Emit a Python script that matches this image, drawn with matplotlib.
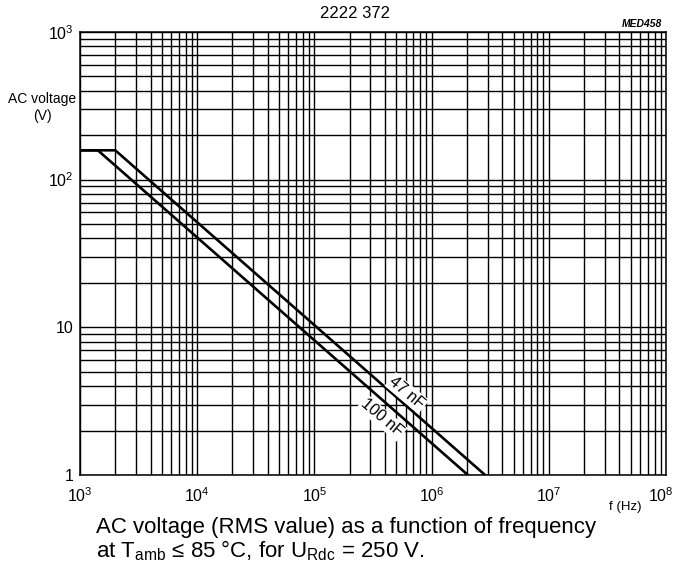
import numpy as np
import matplotlib
matplotlib.use("Agg")
import matplotlib.pyplot as plt
from matplotlib.ticker import FixedLocator, FixedFormatter, NullFormatter

plt.rcParams['font.family'] = ['Liberation Sans', 'DejaVu Sans']
plt.rcParams['mathtext.fontset'] = 'custom'
plt.rcParams['mathtext.rm'] = 'Liberation Sans'
plt.rcParams['mathtext.it'] = 'Liberation Sans'

# Data
freq_47nf = [1e3, 2.0e3, 2.86e6]
volt_47nf = [158, 158, 1]
freq_100nf = [1e3, 1.42e3, 2.04e6]
volt_100nf = [158, 158, 1]

x_ticks = [1e3, 1e4, 1e5, 1e6, 1e7, 1e8]
x_labels = ['$10^3$', '$10^4$', '$10^5$', '$10^6$', '$10^7$', '$10^8$']
y_ticks = [1, 10, 100, 1000]
y_labels = ['1', '10', '$10^2$', '$10^3$']

fig = plt.figure(figsize=(6.74, 5.72), dpi=100)
ax = fig.add_axes([0.1187, 0.1696, 0.8694, 0.7745])

ax.set_xscale('log')
ax.set_yscale('log')
ax.set_xlim(1e3, 1e8)
ax.set_ylim(1, 1e3)

# grid on every decade and sub-decade line
ax.xaxis.set_major_locator(FixedLocator(x_ticks))
ax.yaxis.set_major_locator(FixedLocator(y_ticks))
# last x label is drawn by hand, pulled in from the edge
ax.xaxis.set_major_formatter(FixedFormatter(x_labels[:-1] + ['']))
ax.yaxis.set_major_formatter(FixedFormatter(y_labels))
ax.xaxis.set_minor_formatter(NullFormatter())
ax.yaxis.set_minor_formatter(NullFormatter())
ax.grid(True, which='both', color='black', linewidth=1.0)
ax.tick_params(which='both', length=0, labelsize=11.5)
ax.tick_params(axis='x', pad=8)
ax.tick_params(axis='y', pad=4.5)
for s in ax.spines.values():
    s.set_linewidth(1.1)

ax.annotate(x_labels[-1], xy=(1, 0), xycoords='axes fraction', xytext=(-4, -8),
            textcoords='offset points', ha='center', va='top', fontsize=11.5)

ax.plot(freq_47nf, volt_47nf, color='black', linewidth=1.9, zorder=3)
ax.plot(freq_100nf, volt_100nf, color='black', linewidth=1.9, zorder=3)

# curve labels along the lines
ax.text(10**5.79, 10**0.555, '47 nF', rotation=-40, ha='center', va='center',
        fontsize=11.5, bbox=dict(facecolor='white', edgecolor='none', pad=1.0), zorder=4)
ax.text(10**5.577, 10**0.386, '100 nF', rotation=-40, ha='center', va='center',
        fontsize=11.5, bbox=dict(facecolor='white', edgecolor='none', pad=1.0), zorder=4)

fig.text(0.527, 0.977, '2222 372', ha='center', va='center', fontsize=12)
fig.text(0.982, 0.958, 'MED458', ha='right', va='center', fontsize=7.5,
         style='italic', fontweight='bold')
fig.text(0.063, 0.812, 'AC voltage\n(V)', ha='center', va='center', fontsize=10,
         linespacing=1.35)
fig.text(0.927, 0.114, 'f (Hz)', ha='center', va='center', fontsize=9.5)

fig.text(0.1424, 0.068, 'AC voltage (RMS value) as a function of frequency',
         ha='left', va='baseline', fontsize=16)
fig.text(0.1424, 0.026, r'at T$_{\mathrm{amb}}$ ≤ 85 °C, for U$_{\mathrm{Rdc}}$ = 250 V.',
         ha='left', va='baseline', fontsize=16)

fig.savefig('out.png', dpi=100)
